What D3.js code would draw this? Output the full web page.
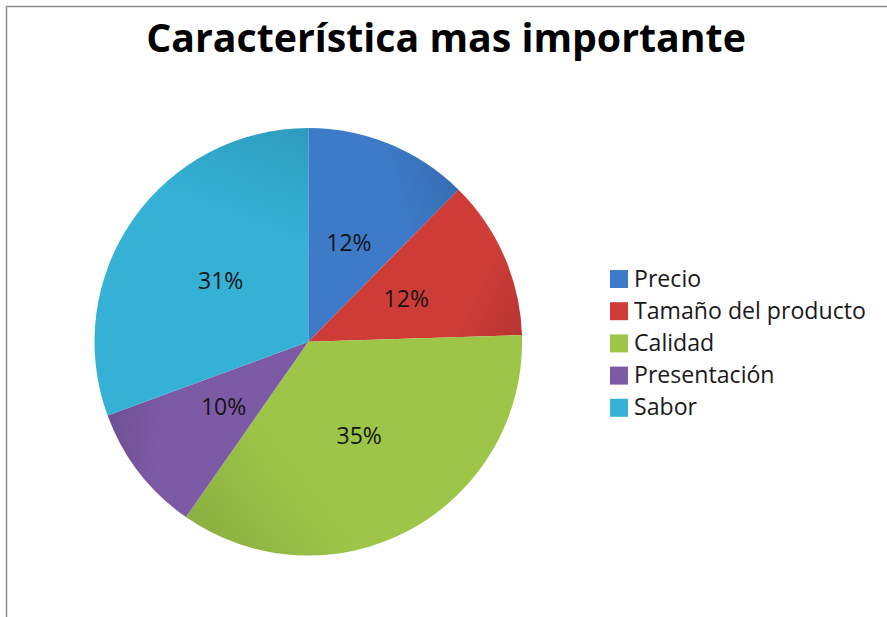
<!DOCTYPE html>
<html><head><meta charset="utf-8">
<script src="https://cdn.jsdelivr.net/npm/d3@7"></script>
<style>
html,body{margin:0;padding:0;background:#fff;}
svg{display:block;}
</style></head>
<body>
<svg id="chart" width="887" height="617"></svg>
<script>
const title = "Característica mas importante";
const categories = ["Precio", "Tamaño del producto", "Calidad", "Presentación", "Sabor"];
const values = [12.4, 12.1, 35.2, 9.7, 30.6];
const colors = ["#3D7BC9", "#CE3C37", "#9DC648", "#7D5AA6", "#34B1D5"];

const svg = d3.select("#chart");
const W = 887, H = 617;
const font = "'Open Sans', 'Liberation Sans', sans-serif";

// frame
svg.append("line").attr("x1", 6.5).attr("y1", 6.5).attr("x2", W).attr("y2", 6.5)
  .attr("stroke", "#8a8a8a").attr("stroke-width", 1.5);
svg.append("line").attr("x1", 6.5).attr("y1", 6.5).attr("x2", 6.5).attr("y2", H)
  .attr("stroke", "#8a8a8a").attr("stroke-width", 1.5);

// title
const t = svg.append("text").attr("x", 446).attr("y", 52)
  .attr("text-anchor", "middle").attr("font-family", font).attr("font-weight", "bold")
  .attr("font-size", 40).attr("fill", "#000").text(title);
const tw = t.node().getComputedTextLength();
t.attr("font-size", 40 * 600 / tw);

// pie
const cx = 308.3, cy = 341.8, R = 213.8;
const g = svg.append("g").attr("transform", `translate(${cx},${cy})`);
const pie = d3.pie().sort(null).value(d => d)(values);
const arc = d3.arc().innerRadius(0).outerRadius(R);
const total = d3.sum(values);
const color = d3.scaleOrdinal().domain(categories).range(colors);

const defs = svg.append("defs");
pie.forEach((p, i) => {
  const a0 = p.startAngle, a1 = p.endAngle;
  const gr = defs.append("linearGradient").attr("id", "g" + i)
    .attr("gradientUnits", "userSpaceOnUse")
    .attr("x1", Math.sin(a0) * R * 0.5).attr("y1", -Math.cos(a0) * R * 0.5)
    .attr("x2", Math.sin(a1) * R).attr("y2", -Math.cos(a1) * R);
  const c = color(categories[i]);
  gr.append("stop").attr("offset", 0).attr("stop-color", c);
  gr.append("stop").attr("offset", 0.6).attr("stop-color", c);
  gr.append("stop").attr("offset", 1).attr("stop-color", d3.color(c).darker(0.35));
});

g.selectAll("path.slice").data(pie).join("path").attr("class", "slice")
  .attr("d", arc).attr("fill", (d, i) => `url(#g${i})`);

g.selectAll("text.lbl").data(pie).join("text").attr("class", "lbl")
  .attr("transform", d => `translate(${arc.centroid(d)})`)
  .attr("text-anchor", "middle").attr("dy", "0.36em")
  .attr("font-family", font).attr("font-size", 23).attr("fill", "#151515")
  .text(d => Math.round(d.data / total * 100) + "%");

// legend
const leg = svg.append("g").attr("transform", "translate(610,270)");
const rowH = 32.2;
const items = leg.selectAll("g").data(categories).join("g")
  .attr("transform", (d, i) => `translate(0,${i * rowH})`);
items.append("rect").attr("x", 0).attr("y", 0).attr("width", 18).attr("height", 18)
  .attr("fill", d => color(d));
const lt = items.append("text").attr("x", 24).attr("y", 16.5)
  .attr("font-family", font).attr("font-size", 21).attr("fill", "#1a1a1a").text(d => d);
const lw = lt.nodes()[1].getComputedTextLength();
lt.attr("font-size", 21 * 232 / lw);
</script>
</body></html>
